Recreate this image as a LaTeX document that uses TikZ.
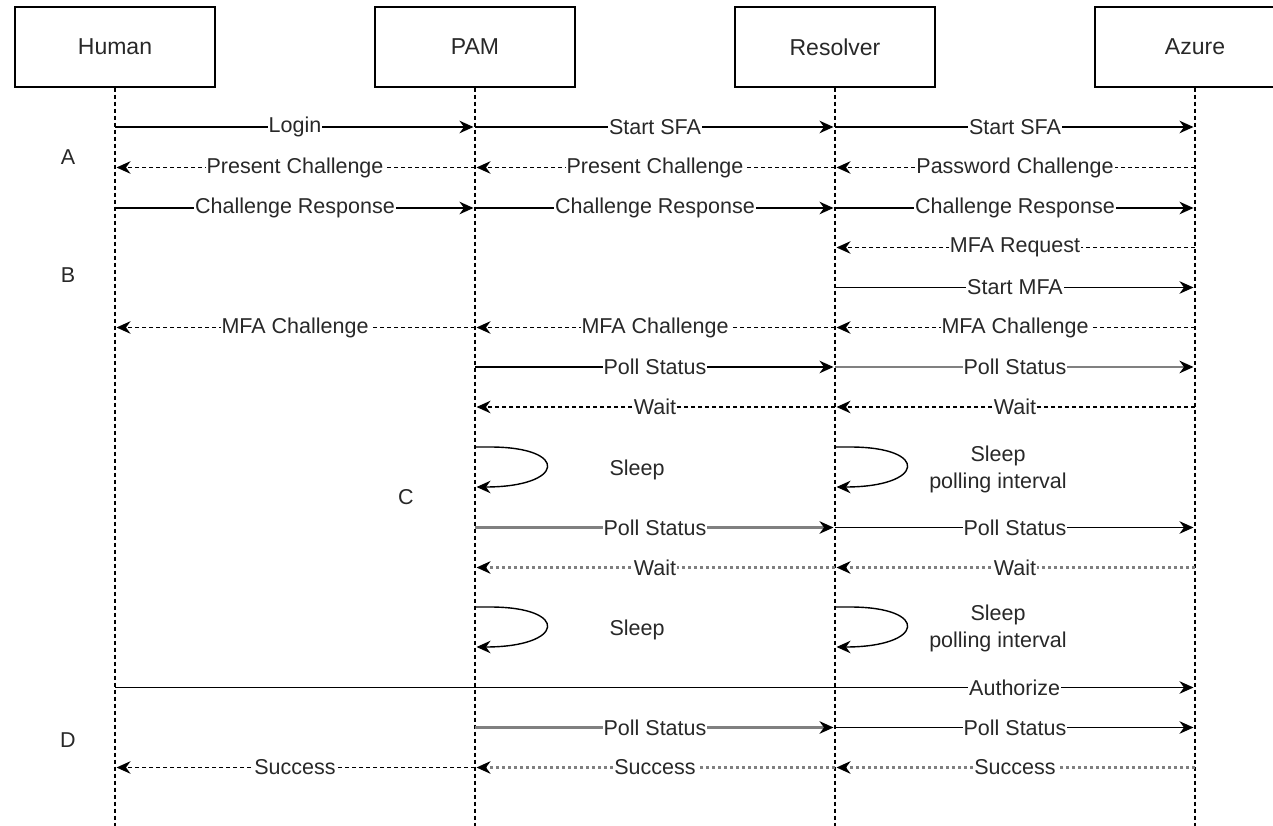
\documentclass[tikz,border=0pt]{standalone}
\usepackage{fontspec}
\setmainfont{Liberation Sans}
\usetikzlibrary{arrows.meta,calc}
\definecolor{msggray}{RGB}{128,128,128}
\definecolor{txt}{RGB}{40,40,40}
\begin{document}
\begin{tikzpicture}[x=1pt,y=-1pt,
 actor/.style={draw,line width=1.3pt,minimum width=200pt,minimum height=80pt,inner sep=0pt,font=\fontsize{23}{26}\selectfont,text=txt},
 life/.style={line width=1.1pt,dash pattern=on 4pt off 3pt},
 msg/.style={line width=1.7pt,shorten >=1.5pt,-{Stealth[length=14pt,width=12.5pt,inset=4.5pt,color=black]}},
 ret/.style={msg,dash pattern=on 4pt off 3pt},
 gmsg/.style={line width=2.4pt,shorten >=1.5pt,draw=msggray,-{Stealth[length=14pt,width=12.5pt,inset=4.5pt,color=black]}},
 gret/.style={gmsg,dash pattern=on 3pt off 3pt},
 lbl/.style={fill=white,inner sep=1pt,font=\fontsize{21.5}{24}\selectfont,text=txt},
 note/.style={font=\fontsize{21.5}{27}\selectfont,text=txt,align=center,inner sep=0pt},
]
\useasboundingbox (0,0) rectangle (1273,826);

% actors
\node[actor] (human) at (115,47) {Human};
\node[actor] (pam) at (475,47) {PAM};
\node[actor] (res) at (835,47) {Resolver};
\node[actor] (azure) at (1195,47) {Azure};

% lifelines
\coordinate (bot) at (0,830);
\foreach \a in {human,pam,res,azure} \draw[life] (\a.south) -- (\a |- bot);

% rows
\coordinate (r1) at (0,127);
\coordinate (r2) at (0,167.5);
\coordinate (r3) at (0,208);
\coordinate (r4) at (0,247.5);
\coordinate (r5) at (0,287.5);
\coordinate (r6) at (0,327.5);
\coordinate (r7) at (0,367);
\coordinate (r8) at (0,407);
\coordinate (la) at (0,447);
\coordinate (lb) at (0,487);
\coordinate (r9) at (0,527.5);
\coordinate (r10) at (0,567.5);
\coordinate (lc) at (0,607);
\coordinate (ld) at (0,647);
\coordinate (r11) at (0,687.5);
\coordinate (r12) at (0,727.5);
\coordinate (r13) at (0,767.5);

% A
\draw[msg] (human |- r1) -- node[lbl]{Login} (pam |- r1);
\draw[msg] (pam |- r1) -- node[lbl]{Start SFA} (res |- r1);
\draw[msg] (res |- r1) -- node[lbl]{Start SFA} (azure |- r1);
\draw[ret] (pam |- r2) -- node[lbl]{Present Challenge} (human |- r2);
\draw[ret] (res |- r2) -- node[lbl]{Present Challenge} (pam |- r2);
\draw[ret] (azure |- r2) -- node[lbl]{Password Challenge} (res |- r2);
\draw[msg] (human |- r3) -- node[lbl]{Challenge Response} (pam |- r3);
\draw[msg] (pam |- r3) -- node[lbl]{Challenge Response} (res |- r3);
\draw[msg] (res |- r3) -- node[lbl]{Challenge Response} (azure |- r3);

% B
\draw[ret] (azure |- r4) -- node[lbl]{MFA Request} (res |- r4);
\draw[msg] (res |- r5) -- node[lbl]{Start MFA} (azure |- r5);
\draw[ret] (pam |- r6) -- node[lbl]{MFA Challenge} (human |- r6);
\draw[ret] (res |- r6) -- node[lbl]{MFA Challenge} (pam |- r6);
\draw[ret] (azure |- r6) -- node[lbl]{MFA Challenge} (res |- r6);

% C
\draw[msg] (pam |- r7) -- node[lbl]{Poll Status} (res |- r7);
\draw[gmsg] (res |- r7) -- node[lbl]{Poll Status} (azure |- r7);
\draw[ret] (res |- r8) -- node[lbl]{Wait} (pam |- r8);
\draw[ret] (azure |- r8) -- node[lbl]{Wait} (res |- r8);

\draw[msg,line width=1.4pt] (pam |- la) -- ++(15,0) .. controls +(80,0) and +(90,0) .. (pam |- lb);
\draw[msg,line width=1.4pt] (res |- la) -- ++(15,0) .. controls +(80,0) and +(90,0) .. (res |- lb);
\node[note] (sleep1) at (637,470) {Sleep};
\node[note] (sleep2) at (998,469.5) {Sleep\\polling interval};

\draw[gmsg] (pam |- r9) -- node[lbl]{Poll Status} (res |- r9);
\draw[msg] (res |- r9) -- node[lbl]{Poll Status} (azure |- r9);
\draw[gret] (res |- r10) -- node[lbl]{Wait} (pam |- r10);
\draw[gret] (azure |- r10) -- node[lbl]{Wait} (res |- r10);

\draw[msg,line width=1.4pt] (pam |- lc) -- ++(15,0) .. controls +(80,0) and +(90,0) .. (pam |- ld);
\draw[msg,line width=1.4pt] (res |- lc) -- ++(15,0) .. controls +(80,0) and +(90,0) .. (res |- ld);
\node[note] (sleep3) at (637,630) {Sleep};
\node[note] (sleep4) at (998,628.5) {Sleep\\polling interval};

% D
\draw[msg] (human |- r11) -- node[lbl,pos=0.833]{Authorize} (azure |- r11);
\draw[gmsg] (pam |- r12) -- node[lbl]{Poll Status} (res |- r12);
\draw[msg] (res |- r12) -- node[lbl]{Poll Status} (azure |- r12);
\draw[ret] (pam |- r13) -- node[lbl]{Success} (human |- r13);
\draw[gret] (res |- r13) -- node[lbl]{Success} (pam |- r13);
\draw[gret] (azure |- r13) -- node[lbl]{Success} (res |- r13);

% section labels
\node[note] (secA) at (68,157) {A};
\node[note] (secB) at (68,275) {B};
\node[note] (secC) at (406,497) {C};
\node[note] (secD) at (68,740) {D};
\end{tikzpicture}
\end{document}
